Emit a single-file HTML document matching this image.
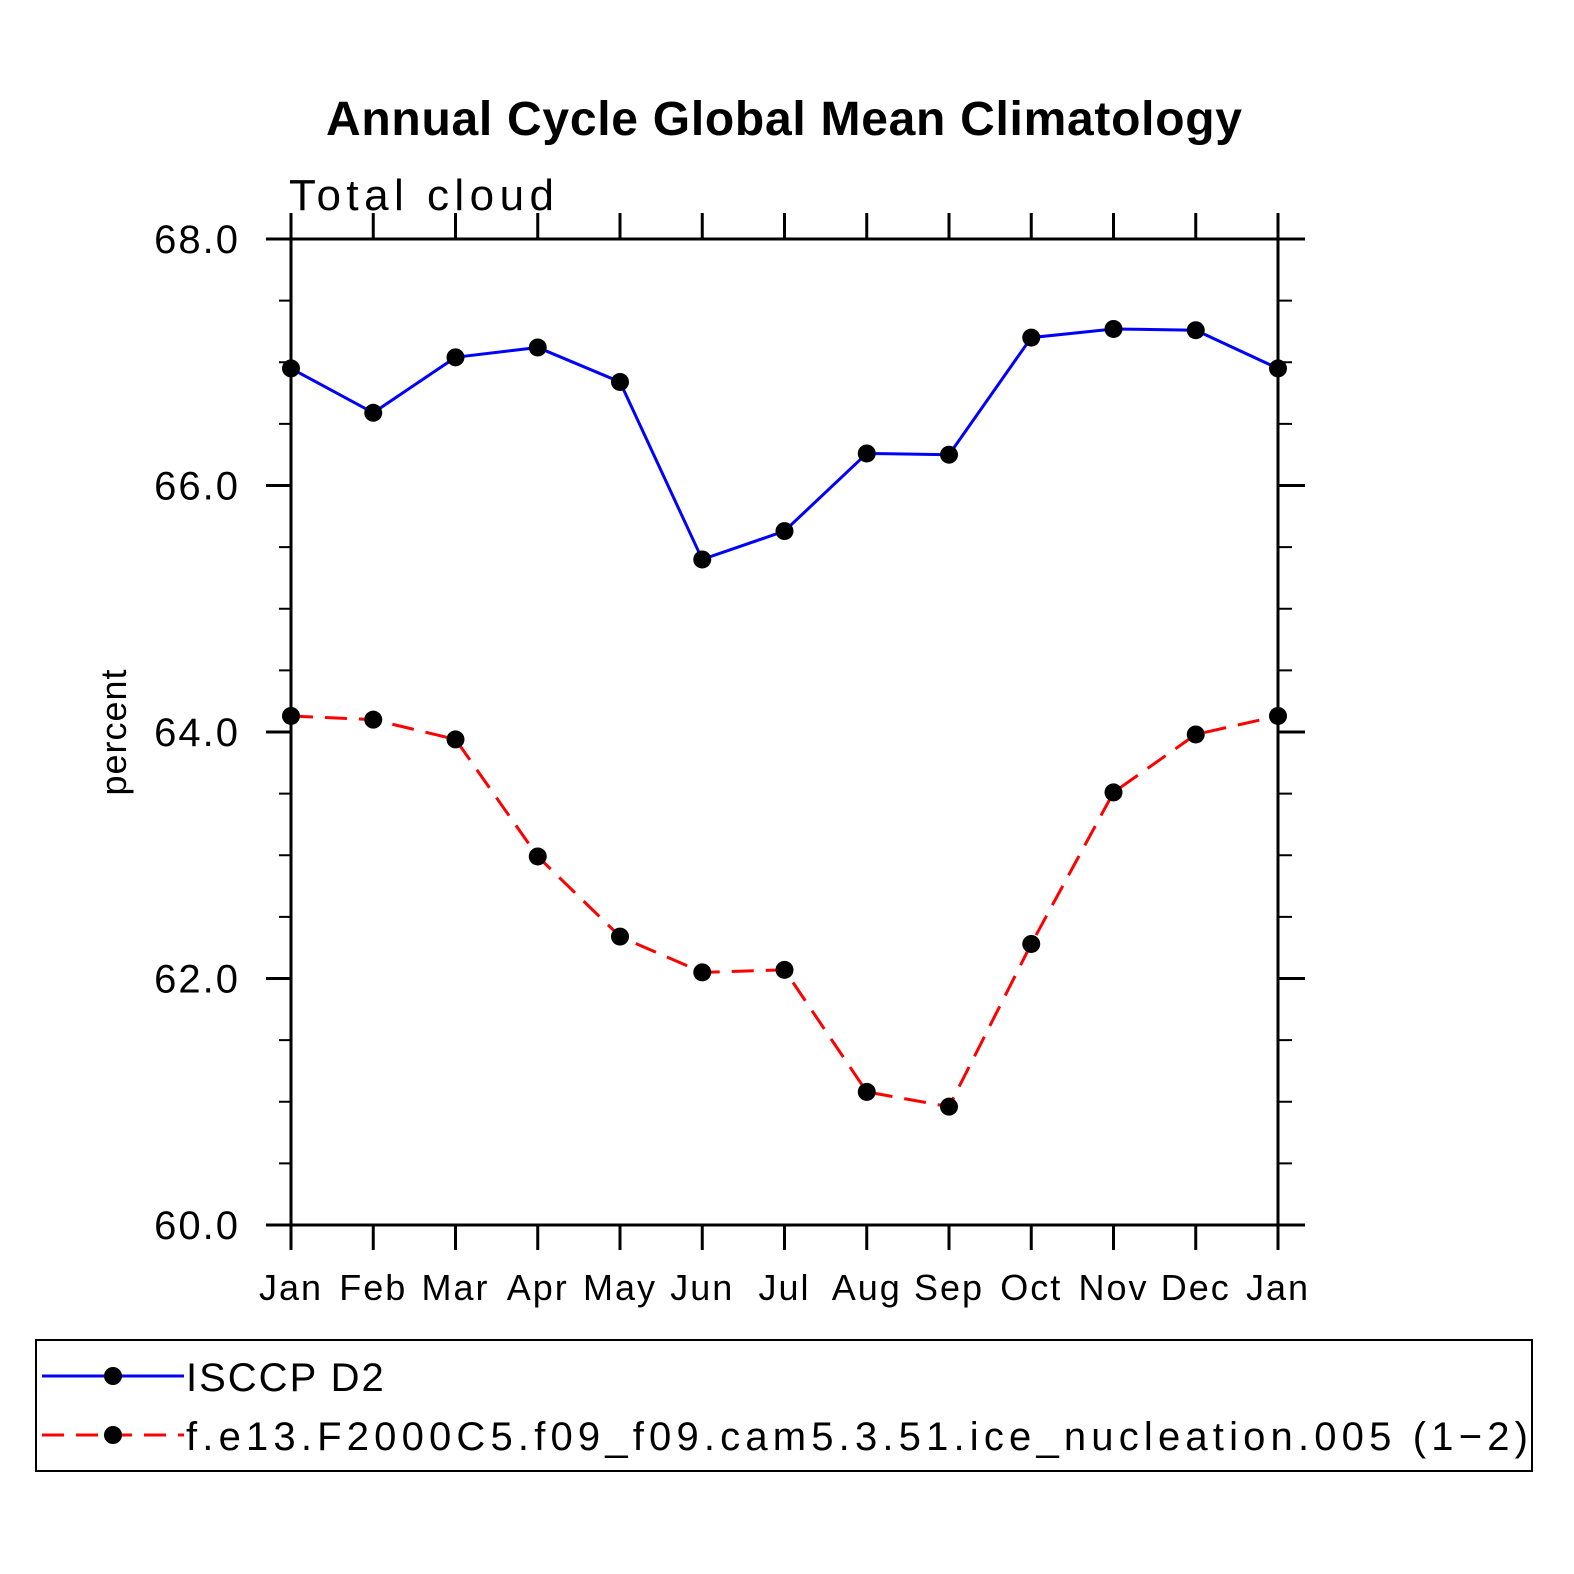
<!DOCTYPE html>
<html><head><meta charset="utf-8"><style>
html,body{margin:0;padding:0;background:#fff;overflow:hidden;width:1574px;height:1574px}
svg{display:block}
svg text{font-family:"Liberation Sans",sans-serif}
</style></head><body>
<svg id="chart" width="1574" height="1574" xmlns="http://www.w3.org/2000/svg">
<text x="784" y="135" text-anchor="middle" font-size="48" font-weight="bold" textLength="916">Annual Cycle Global Mean Climatology</text>
<text x="289" y="210" font-size="44" letter-spacing="3" textLength="268">Total cloud</text>
<text transform="translate(126,732) rotate(-90)" text-anchor="middle" font-size="36" letter-spacing="1">percent</text>
<g id="axes"></g>
<g id="series"></g>
<rect x="36" y="1340" width="1496" height="131" fill="none" stroke="#000" stroke-width="2"/>
<g>
<line x1="42" y1="1376" x2="184" y2="1376" stroke="#00f" stroke-width="3"/>
<circle cx="113" cy="1376" r="9"/>
<text x="186" y="1391" font-size="40" letter-spacing="2">ISCCP D2</text>
</g>
<g>
<line x1="42" y1="1435" x2="184" y2="1435" stroke="#f00" stroke-width="3" stroke-dasharray="22,12"/>
<circle cx="113" cy="1435" r="9"/>
<text x="186" y="1450" font-size="40" textLength="1342">f.e13.F2000C5.f09_f09.cam5.3.51.ice_nucleation.005 (1−2)</text>
</g>
</svg>
<script>
const months=["Jan","Feb","Mar","Apr","May","Jun","Jul","Aug","Sep","Oct","Nov","Dec","Jan"];
const isccp=[66.95,66.59,67.04,67.12,66.84,65.40,65.63,66.26,66.25,67.20,67.27,67.26,66.95];
const model=[64.13,64.10,63.94,62.99,62.34,62.05,62.07,61.08,60.96,62.28,63.51,63.98,64.13];
const yTicks=["60.0","62.0","64.0","66.0","68.0"];
const yMin=60,yMax=68;
const X0=291,X1=1278,Y0=1225,Y1=239;
const NS="http://www.w3.org/2000/svg";
function xs(i){return X0+(X1-X0)*i/(months.length-1);}
function ys(v){return Y0-(Y0-Y1)*(v-yMin)/(yMax-yMin);}
function mk(tag,at,parent){const e=document.createElementNS(NS,tag);for(const k in at)e.setAttribute(k,at[k]);parent.appendChild(e);return e;}
const ax=document.getElementById('axes');
const frame=mk('rect',{x:X0,y:Y1,width:X1-X0,height:Y0-Y1,fill:'none',stroke:'#000','stroke-width':3},ax);


months.forEach((m,i)=>{
 const x=xs(i);
 const t1=mk('line',{x1:x,y1:Y0,x2:x,y2:Y0+25,stroke:'#000','stroke-width':3},ax);
 
 
 const t2=mk('line',{x1:x,y1:Y1,x2:x,y2:Y1-26,stroke:'#000','stroke-width':3},ax);
 
 
 const tx=mk('text',{x:x,y:1300,'text-anchor':'middle','font-size':36,'letter-spacing':2},ax);
 tx.textContent=m;
 
 
});
for(let v=yMin;v<=yMax+1e-9;v+=0.5){
 const y=ys(v);const major=Math.abs(v-Math.round(v/2)*2)<1e-9;
 const l=mk('line',{x1:major?X0-25:X0-12,y1:y,x2:X0,y2:y,stroke:'#000','stroke-width':major?3:2},ax);
 
 
 const r=mk('line',{x1:X1,y1:y,x2:major?X1+27:X1+14,y2:y,stroke:'#000','stroke-width':major?3:2},ax);
 
 
}
yTicks.forEach(s=>{
 const y=ys(parseFloat(s));
 const t=mk('text',{x:240,y:y+14,'text-anchor':'end','font-size':40,'letter-spacing':2},ax);
 t.textContent=s;
 
 
});
const sg=document.getElementById('series');
function draw(vals,color,dash,name){
 const p=mk('polyline',{points:vals.map((v,i)=>xs(i)+','+ys(v)).join(' '),fill:'none',stroke:color,'stroke-width':3,'stroke-dasharray':dash},sg);
 
 
 vals.forEach((v,i)=>{
  const c=mk('circle',{cx:xs(i),cy:ys(v),r:9,fill:'#000'},sg);
  
  
 });
}
draw(isccp,'#00f','none','isccp');
draw(model,'#f00','22,12','model');
</script>
</body></html>
